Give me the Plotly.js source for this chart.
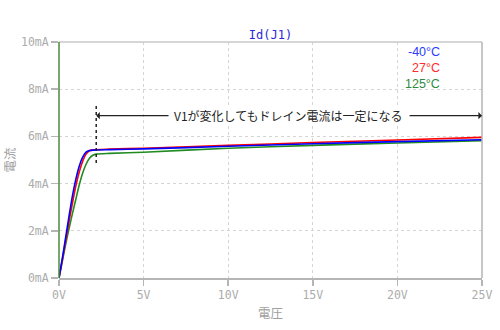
<!DOCTYPE html>
<html>
<head>
<meta charset="utf-8">
<script src="https://cdn.plot.ly/plotly-3.0.1.min.js"></script>
<style>
  html, body { margin: 0; padding: 0; background: #fff; }
  #chart { width: 500px; height: 330px; }
</style>
</head>
<body>
<div id="chart"></div>
<script>
// Drain current Id(J1) vs drain voltage, swept at three temperatures
const vdsBlue = [0, 0.2, 0.4, 0.6, 0.8, 1.0, 1.2, 1.4, 1.6, 1.8, 2.0, 3, 5, 10, 15, 20, 25];
const idBlue  = [0, 0.85, 1.75, 2.65, 3.5, 4.2, 4.75, 5.12, 5.33, 5.40, 5.42, 5.44, 5.47, 5.58, 5.69, 5.78, 5.86];

const vdsRed = [0, 0.2, 0.4, 0.6, 0.8, 1.0, 1.2, 1.4, 1.6, 1.8, 2.0, 3, 5, 10, 15, 20, 25];
const idRed  = [0, 0.78, 1.6, 2.42, 3.2, 3.92, 4.5, 4.95, 5.25, 5.39, 5.43, 5.46, 5.50, 5.62, 5.74, 5.85, 5.96];

const vdsGreen = [0, 0.2, 0.4, 0.6, 0.8, 1.0, 1.2, 1.4, 1.6, 1.8, 2.0, 2.2, 3, 5, 10, 15, 20, 25];
const idGreen  = [0, 0.72, 1.45, 2.12, 2.75, 3.35, 3.95, 4.45, 4.82, 5.07, 5.2, 5.25, 5.28, 5.33, 5.50, 5.62, 5.72, 5.82];

const seriesNames = ['-40°C', '27°C', '125°C'];
const seriesColors = ['#0000ff', '#ff0000', '#228b22'];
const labelColors = ['#2b3cff', '#ff2a2a', '#2e8b3e'];

// Axis ticks
const xTickVals = [0, 5, 10, 15, 20, 25];
const xTickText = ['0V', '5V', '10V', '15V', '20V', '25V'];
const yTickVals = [0, 2, 4, 6, 8, 10];
const yTickText = ['0mA', '2mA', '4mA', '6mA', '8mA', '10mA'];

// Annotation geometry (data units)
const knee = 2.2;
const arrowY = 6.88;
const noteText = 'V1が変化してもドレイン電流は一定になる';

const mono = 'DejaVu Sans Mono, monospace';
const sans = 'Liberation Sans, Arial, sans-serif';
const cjk = 'Noto Sans CJK JP, sans-serif';

const traces = [
  {x: vdsGreen, y: idGreen, color: seriesColors[2]},
  {x: vdsRed, y: idRed, color: seriesColors[1]},
  {x: vdsBlue, y: idBlue, color: seriesColors[0]}
].map(s => ({
  x: s.x, y: s.y, type: 'scatter', mode: 'lines',
  line: {color: s.color, width: 1.6, shape: 'spline', smoothing: 0.6},
  hoverinfo: 'skip', showlegend: false
}));

const legendNotes = seriesNames.map((n, i) => ({
  xref: 'paper', yref: 'paper', x: 0.905, y: 0.956 - i * 0.066,
  xanchor: 'right', yanchor: 'middle', showarrow: false,
  text: n, font: {family: sans, size: 12.5, color: labelColors[i]}
}));

const layout = {
  width: 500, height: 330,
  margin: {l: 59, r: 18, t: 42, b: 52},
  paper_bgcolor: '#fff', plot_bgcolor: '#fff',
  title: {
    text: 'Id(J1)', x: 0.541, xanchor: 'center', y: 0.895, yanchor: 'middle',
    font: {family: mono, size: 12, color: '#2a2ad8'}
  },
  xaxis: {
    range: [0, 25], tickmode: 'array', tickvals: xTickVals, ticktext: xTickText,
    showgrid: true, gridcolor: '#d4d4d4', griddash: '3px,3px', gridwidth: 1,
    zeroline: false, showline: true, linecolor: '#b5b5b5', linewidth: 1.5,
    ticks: 'outside', ticklen: 6, tickcolor: '#b5b5b5', tickwidth: 1.5,
    tickfont: {family: mono, size: 11.5, color: '#acacac'},
    title: {text: '電圧', font: {family: cjk, size: 12.5, color: '#a0a0a0'}, standoff: 8}
  },
  yaxis: {
    range: [0, 10], tickmode: 'array', tickvals: yTickVals, ticktext: yTickText,
    showgrid: true, gridcolor: '#d4d4d4', griddash: '3px,3px', gridwidth: 1,
    zeroline: false, showline: false,
    ticks: 'outside', ticklen: 7, tickcolor: '#b5b5b5', tickwidth: 1.5,
    tickfont: {family: mono, size: 11.5, color: '#acacac'},
    title: {text: '電流', font: {family: cjk, size: 12.5, color: '#a0a0a0'}, standoff: 8}
  },
  shapes: [
    // top and right frame
    {type: 'line', xref: 'paper', yref: 'paper', x0: 0, x1: 1, y0: 1, y1: 1,
     line: {color: '#c8c8c8', width: 1.5}},
    {type: 'line', xref: 'paper', yref: 'paper', x0: 1, x1: 1, y0: 0, y1: 1,
     line: {color: '#b5b5b5', width: 1.5}},
    // left axis line
    {type: 'line', xref: 'paper', yref: 'paper', x0: 0, x1: 0, y0: 0, y1: 1,
     line: {color: '#4a8a3a', width: 1.5}},
    // knee marker
    {type: 'line', xref: 'x', yref: 'y', x0: knee, x1: knee, y0: 4.87, y1: 7.33,
     line: {color: '#222', width: 1.5, dash: 'dot'}}
  ],
  annotations: [
    {xref: 'x', yref: 'y', x: 13.59, y: arrowY, showarrow: false,
     text: noteText, font: {family: cjk, size: 12, color: '#222'},
     bgcolor: '#fff'},
    {xref: 'x', yref: 'y', axref: 'x', ayref: 'y', x: knee, y: arrowY, ax: 6.56, ay: arrowY,
     text: '', showarrow: true, arrowhead: 1, arrowsize: 1, arrowwidth: 1.2, arrowcolor: '#222'},
    {xref: 'x', yref: 'y', axref: 'x', ayref: 'y', x: 25, y: arrowY, ax: 20.63, ay: arrowY,
     text: '', showarrow: true, arrowhead: 1, arrowsize: 1, arrowwidth: 1.2, arrowcolor: '#222'}
  ].concat(legendNotes)
};

Plotly.newPlot('chart', traces, layout, {staticPlot: true, displayModeBar: false});
</script>
</body>
</html>
